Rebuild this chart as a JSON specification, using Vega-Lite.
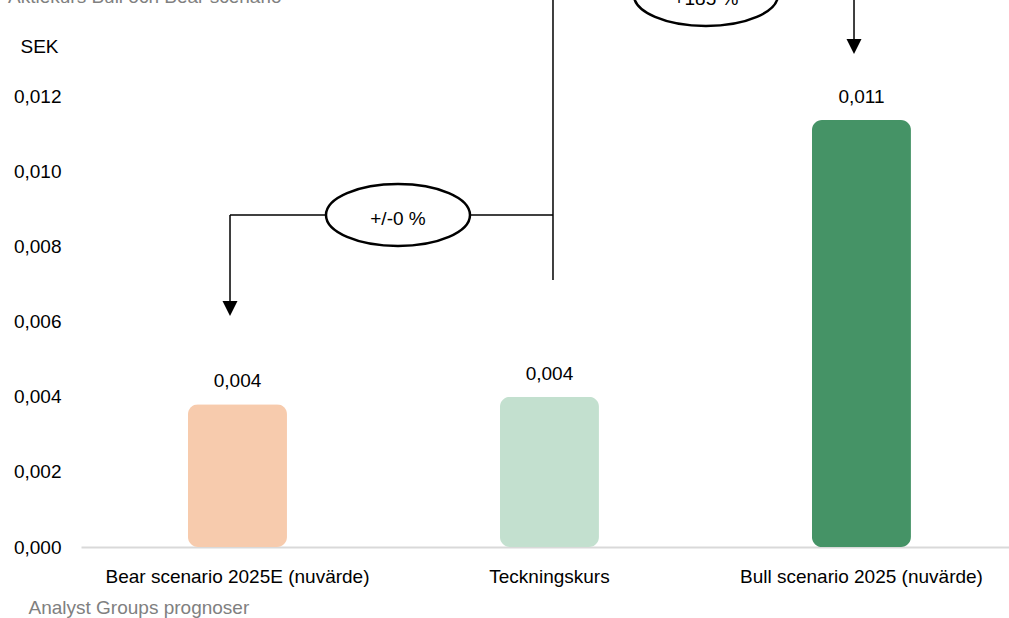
{
  "$schema": "https://vega.github.io/schema/vega-lite/v6.json",
  "width": 928,
  "height": 451,
  "autosize": {"type": "none"},
  "padding": {"left": 81, "top": 96, "right": 0, "bottom": 71},
  "background": "white",
  "title": {
    "text": "Aktiekurs Bull och Bear scenario",
    "anchor": "start",
    "frame": "group",
    "dx": -73,
    "dy": 48,
    "offset": 0,
    "color": "#808080",
    "fontSize": 19,
    "fontWeight": "normal",
    "font": "Liberation Sans"
  },
  "config": {
    "locale": {"number": {"decimal": ",", "thousands": " ", "grouping": [3], "currency": ["", " kr"]}},
    "view": {"stroke": null},
    "font": "Liberation Sans"
  },
  "datasets": {
    "bars": [
      {"kategori": "Bear scenario 2025E (nuvärde)", "värde": 0.0038},
      {"kategori": "Teckningskurs", "värde": 0.004},
      {"kategori": "Bull scenario 2025 (nuvärde)", "värde": 0.01136}
    ],
    "segs": [
      {"x": 1.5128, "x2": 1.5128, "y": 0.007104, "y2": 0.014687},
      {"x": 0.4776, "x2": 1.5128, "y": 0.008834, "y2": 0.008834},
      {"x": 0.4776, "x2": 0.4776, "y": 0.008834, "y2": 0.006519},
      {"x": 1.5128, "x2": 2.4776, "y": 0.014687, "y2": 0.014687},
      {"x": 2.4776, "x2": 2.4776, "y": 0.014687, "y2": 0.01349}
    ],
    "ellipses": [
      {"x": 1.016, "y": 0.008834, "label": "+/-0 %"},
      {"x": 2.003, "y": 0.014687, "label": "+185 %"}
    ],
    "arrows": [
      {"x": 0.4776, "y": 0.006346},
      {"x": 2.4776, "y": 0.013317}
    ]
  },
  "layer": [
    {
      "data": {"name": "bars"},
      "encoding": {
        "x": {
          "field": "kategori",
          "type": "nominal",
          "sort": null,
          "scale": {"paddingInner": 0.6827, "paddingOuter": 0.3286, "align": 0.5218},
          "axis": {
            "title": "Analyst Groups prognoser",
            "titleX": -53,
            "titleY": 60,
            "titleAlign": "left",
            "titleBaseline": "middle",
            "titleColor": "#808080",
            "titleFontSize": 19,
            "titleFontWeight": "normal",
            "labelAngle": 0,
            "labelFontSize": 19,
            "labelColor": "#000000",
            "labelPadding": 20,
            "labelLimit": 0,
            "ticks": false,
            "domainColor": "#d9d9d9",
            "domainWidth": 2
          }
        },
        "y": {
          "field": "värde",
          "type": "quantitative",
          "scale": {"domain": [0, 0.012], "nice": false, "zero": true},
          "axis": {
            "values": [0, 0.002, 0.004, 0.006, 0.008, 0.01, 0.012],
            "format": ".3f",
            "grid": false,
            "domain": false,
            "ticks": false,
            "labelPadding": 20,
            "labelFontSize": 19,
            "labelColor": "#000000",
            "title": "SEK",
            "titleAngle": 0,
            "titleX": -42,
            "titleY": -50,
            "titleAlign": "center",
            "titleBaseline": "middle",
            "titleFontSize": 19,
            "titleFontWeight": "normal",
            "titleColor": "#000000"
          }
        }
      },
      "layer": [
        {
          "mark": {"type": "bar", "cornerRadius": 10},
          "encoding": {
            "color": {
              "field": "kategori",
              "type": "nominal",
              "scale": {
                "domain": ["Bear scenario 2025E (nuvärde)", "Teckningskurs", "Bull scenario 2025 (nuvärde)"],
                "range": ["#F7CBAD", "#C3E0CF", "#459366"]
              },
              "legend": null
            }
          }
        },
        {
          "mark": {"type": "text", "dy": -23, "fontSize": 19, "baseline": "middle", "color": "#000000"},
          "encoding": {"text": {"field": "värde", "type": "quantitative", "format": ".3f"}}
        }
      ]
    },
    {
      "encoding": {
        "x": {"field": "x", "type": "quantitative", "scale": {"domain": [0, 2.97436], "nice": false, "zero": false}, "axis": null}
      },
      "layer": [
        {
          "data": {"name": "segs"},
          "mark": {"type": "rule", "color": "#000000", "strokeWidth": 1.5},
          "encoding": {
            "x2": {"field": "x2"},
            "y": {"field": "y", "type": "quantitative"},
            "y2": {"field": "y2"}
          }
        },
        {
          "data": {"name": "arrows"},
          "mark": {"type": "point", "shape": "M -1 -1 L 1 -1 L 0 1 Z", "size": 225, "filled": true, "color": "#000000", "opacity": 1},
          "encoding": {"y": {"field": "y", "type": "quantitative"}}
        },
        {
          "data": {"name": "ellipses"},
          "mark": {"type": "point", "shape": "M -1 0 A 1 0.43 0 1 0 1 0 A 1 0.43 0 1 0 -1 0 Z", "size": 20736, "filled": false, "fill": "#ffffff", "fillOpacity": 1, "stroke": "#000000", "strokeWidth": 2.5, "opacity": 1},
          "encoding": {"y": {"field": "y", "type": "quantitative"}}
        },
        {
          "data": {"name": "ellipses"},
          "mark": {"type": "text", "fontSize": 19, "baseline": "middle", "dy": 4, "color": "#000000"},
          "encoding": {"y": {"field": "y", "type": "quantitative"}, "text": {"field": "label"}}
        }
      ]
    }
  ],
  "resolve": {"scale": {"x": "independent"}, "axis": {"x": "independent"}}
}
